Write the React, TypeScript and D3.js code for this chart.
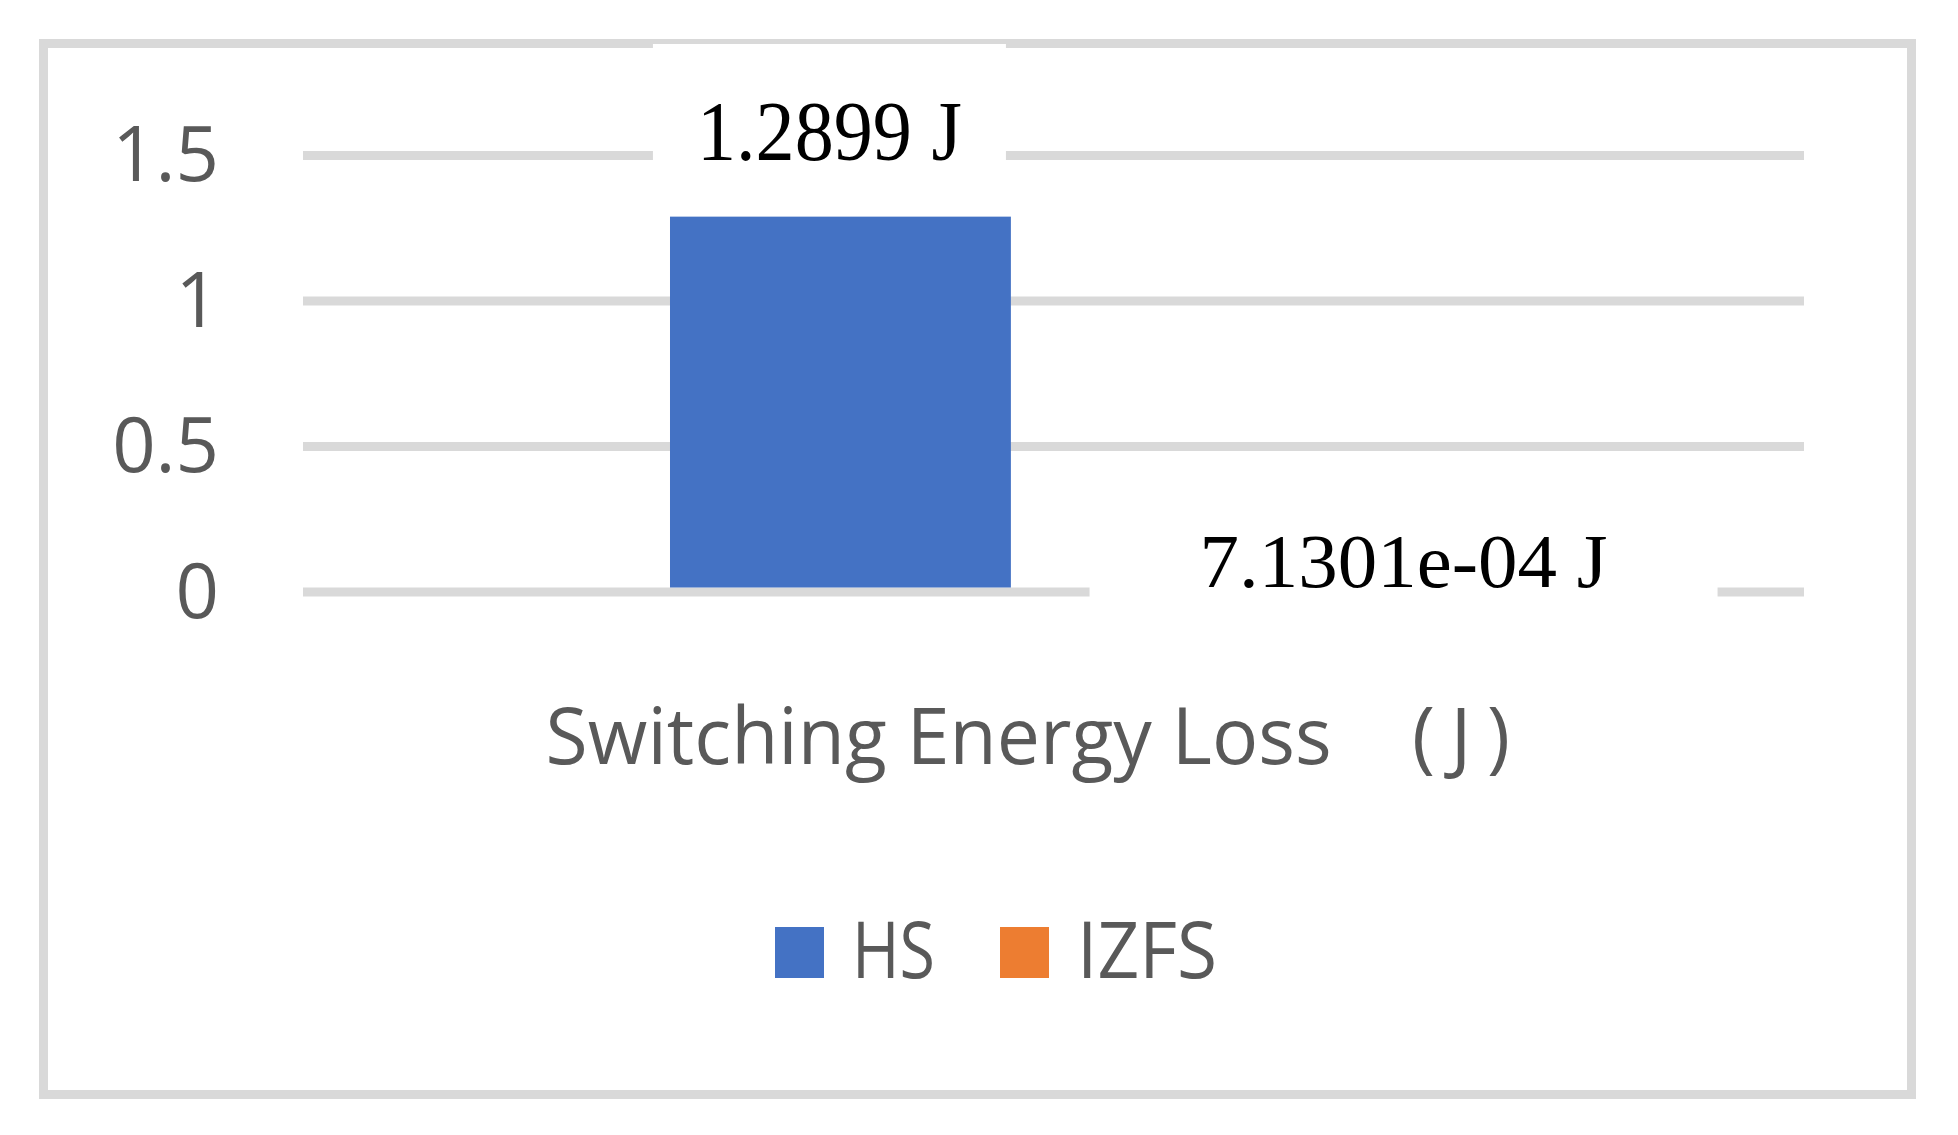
import React from "react";
import * as d3 from "d3";

const categories = ["Switching Energy Loss"];
const seriesNames = ["HS", "IZFS"];
const seriesValues = [1.2899, 0.00071301];
const seriesColors = ["#4472C4", "#ED7D31"];
const dataLabels = ["1.2899 J", "7.1301e-04 J"];
const yTicks = [0, 0.5, 1, 1.5];
const yTickLabels = ["0", "0.5", "1", "1.5"];
const axisTitle = "Switching Energy Loss";
const axisUnit = "(J)";

const W = 1958;
const H = 1135;
const GRID = "#D9D9D9";
const TXT = "#595959";
const SANS = "'Open Sans', 'Noto Sans', sans-serif";
const SERIF = "'Liberation Serif', 'DejaVu Serif', serif";

export default function App() {
  const y = d3.scaleLinear().domain([0, 1.5]).range([592, 155.5]);
  const xOuter = d3.scaleBand().domain(categories).range([303, 1804]).padding(0);
  const x0 = xOuter(categories[0]) as number;
  const bw = xOuter.bandwidth();
  const inner = d3
    .scaleBand()
    .domain(seriesNames)
    .range([x0 + bw * 0.2445, x0 + bw * (1 - 0.2445)])
    .paddingInner(0.2);

  const barCenter = (i: number) => (inner(seriesNames[i]) as number) + inner.bandwidth() / 2;

  // label layout (manually placed boxes in the original)
  const labels = [
    { cx: barCenter(0) - 11, base: y(seriesValues[0]) - 56.6, fs: 84, tl: 265, bx: 353, by0: 44, by1: 200 },
    { cx: barCenter(1) + 137, base: y(seriesValues[1]) - 5, fs: 76, tl: 408, bx: 628, by0: 500, by1: 620 },
  ];

  const legendX = [775, 1000];
  const legendTL = [83, 140];

  return (
    <svg
      width={W}
      height={H}
      style={{ position: "absolute", left: 0, top: 0, display: "block", background: "#fff" }}
    >
      <rect x={0} y={0} width={W} height={H} fill="#fff" />
      {/* chart border */}
      <rect x={43.5} y={43.5} width={1868} height={1051} fill="none" stroke={GRID} strokeWidth={9} />

      {/* gridlines */}
      {yTicks.map((t) => (
        <line key={"g" + t} x1={303} x2={1804} y1={y(t)} y2={y(t)} stroke={GRID} strokeWidth={9} />
      ))}

      {/* y tick labels */}
      {yTicks.map((t, i) => (
        <text
          key={"t" + t}
          x={219}
          y={y(t) - 4}
          textAnchor="end"
          dominantBaseline="central"
          fontFamily={SANS}
          fontSize={76}
          fill={TXT}
        >
          {yTickLabels[i]}
        </text>
      ))}

      {/* bars */}
      {seriesValues.map((v, i) => (
        <rect
          key={"b" + i}
          x={inner(seriesNames[i]) as number}
          y={y(v)}
          width={inner.bandwidth()}
          height={y(0) - y(v) - 4.5 > 0 ? y(0) - y(v) - 4.5 : 0}
          fill={seriesColors[i]}
        />
      ))}

      {/* data labels with white boxes */}
      {labels.map((l, i) => (
        <g key={"l" + i}>
          <rect x={l.cx - l.bx / 2} y={l.by0} width={l.bx} height={l.by1 - l.by0} fill="#fff" />
          <text
            x={l.cx - l.tl / 2}
            y={l.base}
            fontFamily={SERIF}
            fontSize={l.fs}
            fill="#000"
            textLength={l.tl}
            lengthAdjust="spacingAndGlyphs"
          >
            {dataLabels[i]}
          </text>
        </g>
      ))}

      {/* axis title */}
      <text
        x={545.6}
        y={764}
        fontFamily={SANS}
        fontSize={78}
        fill={TXT}
        textLength={786}
        lengthAdjust="spacingAndGlyphs"
      >
        {axisTitle}
      </text>
      <text
        x={1412}
        y={764}
        fontFamily={SANS}
        fontSize={78}
        fill={TXT}
        textLength={98}
        lengthAdjust="spacing"
      >
        {axisUnit}
      </text>

      {/* legend */}
      {seriesNames.map((s, i) => (
        <g key={"lg" + i}>
          <rect x={legendX[i]} y={927} width={49} height={51} fill={seriesColors[i]} />
          <text
            x={legendX[i] + 77}
            y={978}
            fontFamily={SANS}
            fontSize={78}
            fill={TXT}
            textLength={legendTL[i]}
            lengthAdjust="spacingAndGlyphs"
          >
            {s}
          </text>
        </g>
      ))}
    </svg>
  );
}
